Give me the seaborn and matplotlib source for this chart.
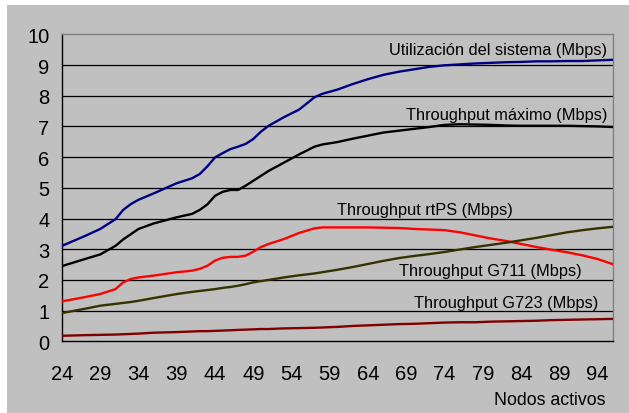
import matplotlib
matplotlib.use("Agg")
import matplotlib.pyplot as plt
import seaborn as sns
import pandas as pd
from matplotlib.patches import Rectangle

sns.set_theme(style="white")
plt.rcParams['font.family'] = ['Liberation Sans', 'DejaVu Sans']

nodos = [24, 27, 29, 31, 32, 33, 34, 36, 39, 41, 42, 43, 44, 45, 46, 47, 48, 49, 50, 51,
         53, 55, 57, 58, 60, 62, 64, 66, 68, 70, 72, 74, 76, 78, 80, 82, 84, 86, 88, 90,
         92, 94, 96]

utilizacion = [3.11, 3.43, 3.66, 3.98, 4.28, 4.47, 4.61, 4.82, 5.15, 5.31, 5.45, 5.70, 5.99,
               6.13, 6.26, 6.34, 6.43, 6.59, 6.83, 7.02, 7.30, 7.55, 7.95, 8.06, 8.20, 8.38,
               8.54, 8.68, 8.78, 8.86, 8.94, 8.99, 9.02, 9.05, 9.07, 9.09, 9.10, 9.12, 9.12,
               9.13, 9.13, 9.15, 9.17]

maximo = [2.45, 2.68, 2.83, 3.11, 3.32, 3.49, 3.66, 3.84, 4.04, 4.15, 4.28, 4.46, 4.74, 4.87,
          4.93, 4.93, 5.07, 5.23, 5.39, 5.55, 5.82, 6.09, 6.34, 6.41, 6.49, 6.60, 6.70, 6.80,
          6.86, 6.92, 6.98, 7.05, 7.07, 7.06, 7.05, 7.03, 7.02, 7.02, 7.02, 7.02, 7.01, 7.00,
          6.98]

rtps = [1.30, 1.44, 1.54, 1.70, 1.92, 2.03, 2.08, 2.14, 2.25, 2.30, 2.36, 2.46, 2.63, 2.72,
        2.75, 2.75, 2.79, 2.92, 3.07, 3.17, 3.33, 3.53, 3.68, 3.71, 3.71, 3.71, 3.71, 3.70,
        3.69, 3.66, 3.64, 3.62, 3.55, 3.45, 3.35, 3.27, 3.17, 3.07, 2.98, 2.90, 2.80, 2.68,
        2.51]

g711 = [0.92, 1.06, 1.16, 1.22, 1.25, 1.28, 1.32, 1.41, 1.54, 1.61, 1.64, 1.67, 1.70, 1.74,
        1.77, 1.81, 1.86, 1.92, 1.96, 2.00, 2.08, 2.15, 2.21, 2.25, 2.33, 2.42, 2.52, 2.62,
        2.71, 2.78, 2.84, 2.91, 2.99, 3.07, 3.14, 3.21, 3.29, 3.37, 3.46, 3.55, 3.62, 3.68,
        3.73]

g723 = [0.18, 0.20, 0.21, 0.22, 0.23, 0.24, 0.25, 0.28, 0.30, 0.32, 0.33, 0.33, 0.34, 0.35,
        0.36, 0.37, 0.38, 0.39, 0.40, 0.40, 0.42, 0.43, 0.44, 0.45, 0.47, 0.50, 0.52, 0.54,
        0.56, 0.57, 0.59, 0.61, 0.62, 0.62, 0.64, 0.65, 0.66, 0.67, 0.69, 0.70, 0.71, 0.72,
        0.73]

series_names = ["Utilización del sistema (Mbps)", "Throughput máximo (Mbps)",
                "Throughput rtPS (Mbps)", "Throughput G711 (Mbps)", "Throughput G723 (Mbps)"]
series_vals = [utilizacion, maximo, rtps, g711, g723]
colors = ["#000080", "#000000", "#FF0000", "#333300", "#800000"]

x_ticks = [24, 29, 34, 39, 44, 49, 54, 59, 64, 69, 74, 79, 84, 89, 94]
y_ticks = list(range(0, 11))

# label positions (data coords) and alignment
label_pos = [(95.2, 9.52, "right"), (95.2, 7.40, "right"), (71.4, 4.28, "center"),
             (80.0, 2.30, "center"), (82.0, 1.28, "center")]

rows = []
for name, vals in zip(series_names, series_vals):
    for xv, yv in zip(nodos, vals):
        rows.append({"Nodos": xv, "Valor": yv, "Serie": name})
df = pd.DataFrame(rows)

bg = "#C0C0C0"
fig = plt.figure(figsize=(6.29, 4.14), dpi=100, facecolor="white")
fig.patches.append(Rectangle((7 / 629, 0), 1, 1 - 6 / 414, transform=fig.transFigure,
                             facecolor=bg, edgecolor="none", zorder=-10))
ax = fig.add_axes([62 / 629, 1 - 342.3 / 414, (613 - 62) / 629, (342.3 - 35.3) / 414])
ax.set_facecolor(bg)

sns.lineplot(data=df, x="Nodos", y="Valor", hue="Serie", palette=dict(zip(series_names, colors)),
             hue_order=series_names, linewidth=1.7, legend=False, ax=ax, zorder=3)

ax.set_xlim(24, 96)
ax.set_ylim(0, 10)
ax.set_xticks(x_ticks)
ax.set_yticks(y_ticks)
ax.set_xlabel("")
ax.set_ylabel("")
for yv in range(1, 10):
    ax.axhline(yv, color="black", linewidth=0.9, zorder=1)

for side in ["top", "right"]:
    ax.spines[side].set_color("#808080")
    ax.spines[side].set_linewidth(1.0)
for side in ["left", "bottom"]:
    ax.spines[side].set_color("black")
    ax.spines[side].set_linewidth(1.0)
ax.tick_params(axis="both", direction="out", length=4, width=1, color="black",
               labelsize=14.5, labelcolor="black")
ax.tick_params(axis="y", pad=5)
ax.tick_params(axis="x", pad=12)

for name, (lx, ly, ha) in zip(series_names, label_pos):
    ax.text(lx, ly, name, ha=ha, va="center", fontsize=11.8, color="black", zorder=4)

fig.text(606 / 629, 1 - 401 / 414, "Nodos activos", ha="right", va="center",
         fontsize=12.8, color="black")

fig.savefig("out.png", dpi=100, facecolor="white")
